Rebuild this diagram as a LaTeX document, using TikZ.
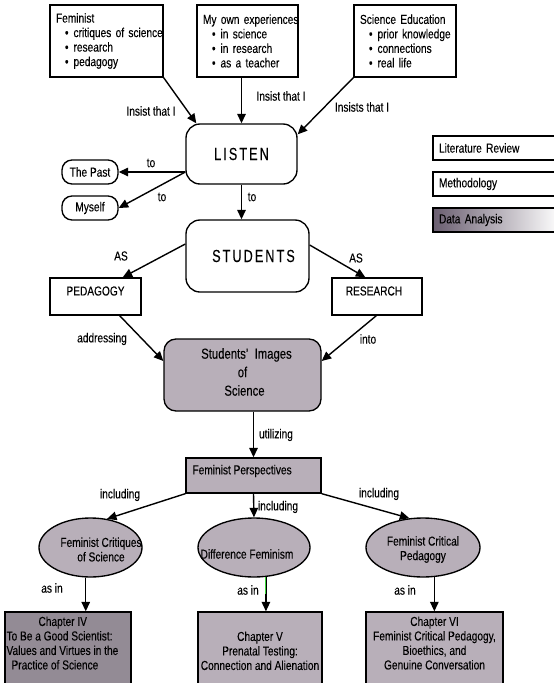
\documentclass[tikz,border=0pt]{standalone}
\usepackage{fontspec}
\setmainfont{Liberation Sans}[FakeStretch=0.78,FakeBold=0.12]
\usetikzlibrary{arrows.meta,shapes.geometric,calc}
\definecolor{lilac}{HTML}{B8AFB9}
\definecolor{lilacdark}{HTML}{938B95}
\definecolor{legenddark}{HTML}{6A5E70}
\definecolor{stemgreen}{HTML}{3CD83C}
% one bullet line of a source box, kept on a single line
\newcommand{\lstitem}[1]{\mbox{\hspace*{9pt}\textbullet\hspace{5pt}#1}}
\begin{document}
\begin{tikzpicture}[x=1pt,y=-1pt,
  every node/.style={font=\fontsize{13}{14.5}\selectfont, inner sep=0pt},
  frame/.style={draw, line width=1.35pt},
  roundbox/.style={frame, rounded corners=14pt},
  pill/.style={frame, rounded corners=10pt, minimum width=56pt, minimum height=24pt},
  tinted/.style={fill=lilac},
  listbox/.style={frame, minimum height=72pt, align=left, inner xsep=6pt},
  legendbox/.style={frame, minimum width=127pt, minimum height=24pt, text width=115pt, align=left, inner xsep=6pt},
  chapter/.style={frame, tinted, minimum height=90pt},
  oval/.style={ellipse, frame, tinted, minimum height=59pt},
  arr/.style={line width=1.4pt, -{Triangle[length=9.5pt,width=8.5pt]}},
  big/.style={font=\fontsize{17.5}{19}\selectfont\addfontfeature{FakeStretch=0.72,LetterSpace=12}},
]
\useasboundingbox (0,0) rectangle (554,683);
\fill[white] (0,0) rectangle (554,683);

% ---- sources at the top
\node[listbox, text width=101pt] (fem) at (106.5,41)
  {\mbox{Feminist}\\ \lstitem{critiques of science}\\ \lstitem{research}\\ \lstitem{pedagogy}};
\node[listbox, text width=89pt] (own) at (247.5,41)
  {\mbox{My own experiences}\\ \lstitem{in science}\\ \lstitem{in research}\\ \lstitem{as a teacher}};
\node[listbox, text width=90pt] (sci) at (405,41)
  {\mbox{Science Education}\\ \lstitem{prior knowledge}\\ \lstitem{connections}\\ \lstitem{real life}};

% ---- central column
\node[roundbox, minimum width=111pt, minimum height=60pt, big] (listen) at (241.5,154) {LISTEN};
\node[pill] (past) at (90,172) {The Past};
\node[pill] (myself) at (90,208) {Myself};
\node[roundbox, minimum width=123pt, minimum height=72pt, big] (students) at (247.5,256) {\hspace*{12pt}STUDENTS};
\node[frame, minimum width=91pt, minimum height=37pt, label={[yshift=5.5pt]center:PEDAGOGY}] (pedagogy) at (95.5,296.5) {};
\node[frame, minimum width=90pt, minimum height=37pt, label={[yshift=5.5pt, xshift=-3pt]center:RESEARCH}] (research) at (377,296.5) {};
\node[frame, tinted, rounded corners=12pt, minimum width=157pt, minimum height=72pt,
      label={[align=center, yshift=3pt, font=\fontsize{14.5}{18.5}\selectfont]center:\hspace*{8pt}Students'\ \ Images\\ of\\ \hspace*{4pt}Science}] (images) at (242.5,375) {};
\node[frame, tinted, minimum width=135pt, minimum height=35pt,
      label={[anchor=west, xshift=7pt, yshift=4.5pt]west:Feminist Perspectives}] (fp) at (253.5,475.5) {};

% ---- perspectives
\node[oval, minimum width=103pt, label={[align=center, xshift=10.5pt, yshift=-2pt]center:Feminist Critiques\\of Science}] (e1) at (90.5,547.5) {};
\node[oval, minimum width=112pt, label={[xshift=-7pt, yshift=-6.5pt]center:Difference Feminism}] (e2) at (254,547.5) {};
\node[oval, minimum width=114pt, label={[align=center, yshift=-2pt]center:Feminist Critical\\Pedagogy}] (e3) at (423,547.5) {};

% ---- chapters
\node[chapter, fill=lilacdark, minimum width=126pt,
      label={[anchor=north west, align=left, xshift=2pt, yshift=-5pt]north west:\hspace*{32pt}Chapter IV\\To Be a Good Scientist:\\Values and Virtues in the\\\hspace*{5pt}Practice of Science}] (ch4) at (68,657) {};
\node[chapter, minimum width=124pt,
      label={[anchor=north, align=center, yshift=-20pt]north:Chapter V\\Prenatal Testing:\\Connection and Alienation}] (ch5) at (260,657) {};
\node[chapter, minimum width=137pt,
      label={[anchor=north, align=center, yshift=-5pt]north:Chapter VI\\Feminist Critical Pedagogy,\\Bioethics, and\\Genuine Conversation}] (ch6) at (434.5,657) {};

% ---- legend
\node[legendbox] (lit) at (496.5,148) {Literature Review};
\node[legendbox] (meth) at (496.5,184) {Methodology};
\node[legendbox, left color=legenddark, right color=white] (data) at (496.5,220) {Data Analysis};

% ---- connectors
\draw[arr] (fem.south east) -- ($(listen.north west)+(11,0)$);
\draw[arr] (own.south -| listen.north) -- (listen.north);
\draw[arr] (sci.south west) -- ($(listen.north east)+(0,11)$);
\coordinate (lw) at (listen.west |- past.east);
\draw[arr] (lw) -- (past.east);
\draw[arr] (lw) -- (myself.east);
\draw[arr] (listen.south) -- (listen.south |- students.north);
\draw[arr] ($(students.west)+(0,-12)$) -- ($(pedagogy.north east)+(-19,0)$);
\draw[arr] ($(students.east)+(0,-11)$) -- ($(research.north west)+(34,0)$);
\draw[arr] ($(pedagogy.south east)+(-22,0)$) -- ($(images.west)+(0,-14)$);
\draw[arr] ($(research.south west)+(45,0)$) -- ($(images.east)+(0,-14)$);
\draw[arr] (images.south -| fp.north) -- (fp.north);
\draw[arr] (fp.south west) -- (e1.60);
\draw[arr] (fp.south) -- (e2.north);
\draw[arr] (fp.south east) -- (e3.115);
\draw[arr] (e1.261) -- (e1.261 |- ch4.north);
\draw[arr] (e2.292) -- (e2.292 |- ch5.north);
\draw[stemgreen, line width=1pt] (e2.292) -- ($(e2.292)+(0,17)$);
\draw[arr] (e3.291) -- (e3.291 |- ch6.north);

% ---- connector labels
\node (t1) at (151,111) {Insist that I};
\node (t2) at (281,96) {Insist that I};
\node (t3) at (362,107) {Insists that I};
\node (t4) at (151,163) {to};
\node (t5) at (162,197) {to};
\node (t6) at (252,197) {to};
\node (t7) at (121,256) {AS};
\node (t8) at (356,258) {AS};
\node (t9) at (102,339) {addressing};
\node (t10) at (368,339) {into};
\node (t11) at (276,435) {utilizing};
\node (t12) at (120,495) {including};
\node (t13) at (278,507) {including};
\node (t14) at (379,494) {including};
\node (t15) at (52,588) {as in};
\node (t16) at (248,590) {as in};
\node (t17) at (405,590) {as in};
\end{tikzpicture}
\end{document}
